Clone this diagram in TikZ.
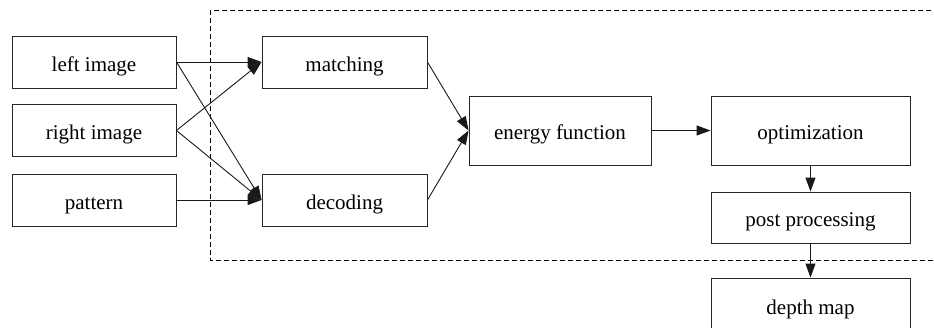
\documentclass[tikz,border=0pt]{standalone}
\usepackage{fontspec}
\setmainfont{Liberation Serif}
\usetikzlibrary{arrows.meta}

\begin{document}
\begin{tikzpicture}[x=1pt,y=-1pt,
  procbox/.style={draw=black!85, line width=0.9pt, inner sep=0pt,
    text height=23pt, text depth=5pt,
    font=\fontsize{21}{25}\selectfont, text=black},
  sbox/.style={procbox, minimum width=164pt, minimum height=52pt},
  wbox/.style={procbox, minimum width=199pt},
  flow/.style={draw=black!90, line width=0.9pt,
    -{Triangle[length=14pt,width=10pt]}},
  group/.style={draw=black, line width=0.9pt, dash pattern=on 5pt off 3pt}]

  \useasboundingbox (0,0) rectangle (934,327);
  \clip (0,0) rectangle (934,327);

  % grouping frame around the core processing stages
  \path[group] (210,10) rectangle (980,260.5);

  % inputs
  \node[sbox] (left) at (94,62) {left image};
  \node[sbox] (right) at (94,130.5) {right image};
  \node[sbox] (pattern) at (94,200) {pattern};

  % first stage
  \node[sbox, minimum width=165pt] (match) at (344.5,62) {matching};
  \node[sbox, minimum width=165pt] (decode) at (344.5,200) {decoding};

  % energy and optimization
  \node[procbox, minimum width=182pt, minimum height=69pt] (energy) at (560,130.5) {energy function};
  \node[wbox, minimum height=69pt] (optim) at (810.5,130.5) {optimization};
  \node[wbox, minimum height=51pt] (post) at (810.5,217.5) {post processing};
  \node[wbox, minimum height=54pt] (depth) at (810.5,305) {depth map};

  % connectors
  \draw[flow] (left.east) -- (match.west);
  \draw[flow] (left.east) -- (decode.west);
  \draw[flow] (right.east) -- (match.west);
  \draw[flow] (right.east) -- (decode.west);
  \draw[flow] (pattern.east) -- (decode.west);
  \draw[flow] (match.east) -- (energy.west);
  \draw[flow] (decode.east) -- (energy.west);
  \draw[flow] (energy.east) -- (optim.west);
  \draw[flow] (optim.south) -- (post.north);
  \draw[flow] (post.south) -- (depth.north);
\end{tikzpicture}
\end{document}
